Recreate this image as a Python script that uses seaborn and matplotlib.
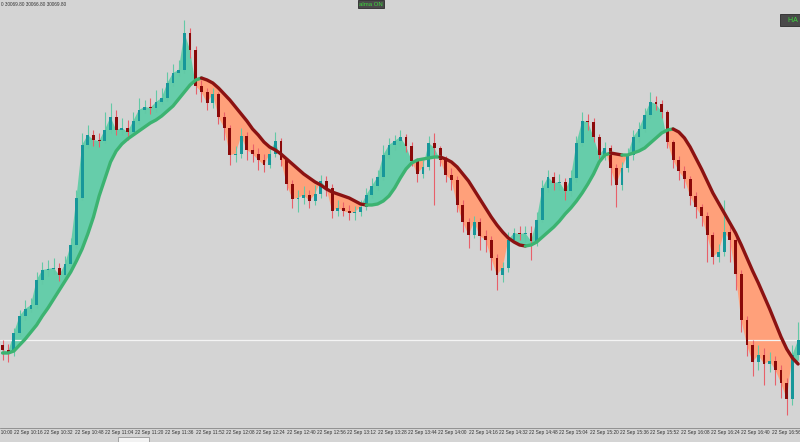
import matplotlib
matplotlib.use("Agg")
import matplotlib.pyplot as plt
import matplotlib.transforms as mtransforms
import numpy as np
import pandas as pd
import seaborn as sns

# one candle every 3 minutes, time in minutes after 10:00
start_min = 11
step_min = 3
first_open = 30065

close = [30060, 30058, 30077, 30094, 30101, 30105, 30130, 30140, 30141, 30142,
         30135, 30146, 30165, 30212, 30265, 30275, 30270, 30269, 30280, 30293,
         30280, 30282, 30278, 30289, 30300, 30303, 30302, 30308, 30312, 30327,
         30337, 30340, 30377, 30360, 30324, 30318, 30307, 30316, 30293, 30282,
         30255, 30256, 30274, 30260, 30256, 30250, 30245, 30256, 30269, 30250,
         30226, 30211, 30212, 30215, 30209, 30216, 30229, 30222, 30199, 30202,
         30199, 30197, 30198, 30203, 30215, 30224, 30233, 30255, 30265, 30269,
         30273, 30264, 30249, 30236, 30243, 30267, 30262, 30250, 30235, 30230,
         30205, 30188, 30175, 30188, 30174, 30170, 30152, 30135, 30142, 30170,
         30177, 30176, 30177, 30169, 30190, 30222, 30233, 30227, 30228, 30219,
         30232, 30267, 30289, 30288, 30273, 30255, 30262, 30242, 30225, 30242,
         30255, 30273, 30281, 30295, 30308, 30306, 30298, 30268, 30250, 30239,
         30231, 30214, 30203, 30194, 30175, 30153, 30158, 30178, 30170, 30136,
         30090, 30065, 30048, 30055, 30046, 30049, 30040, 30027, 30011, 30055,
         30070]

high = [30070, 30066, 30082, 30100, 30110, 30112, 30138, 30148, 30150, 30152,
        30147, 30154, 30172, 30220, 30277, 30285, 30280, 30277, 30298, 30307,
        30300, 30292, 30290, 30298, 30312, 30310, 30312, 30320, 30322, 30338,
        30346, 30350, 30390, 30382, 30364, 30330, 30322, 30322, 30318, 30298,
        30285, 30264, 30282, 30278, 30266, 30262, 30256, 30264, 30278, 30272,
        30252, 30230, 30220, 30224, 30220, 30225, 30235, 30234, 30226, 30210,
        30208, 30205, 30204, 30210, 30222, 30232, 30240, 30265, 30272, 30275,
        30280, 30276, 30268, 30252, 30250, 30274, 30277, 30264, 30254, 30242,
        30234, 30210, 30192, 30194, 30192, 30180, 30174, 30156, 30148, 30178,
        30182, 30184, 30184, 30184, 30198, 30230, 30240, 30238, 30236, 30232,
        30240, 30274, 30298, 30296, 30292, 30276, 30268, 30265, 30246, 30248,
        30262, 30280, 30288, 30302, 30318, 30314, 30310, 30300, 30270, 30254,
        30244, 30234, 30218, 30206, 30198, 30178, 30166, 30210, 30184, 30174,
        30140, 30094, 30070, 30065, 30062, 30058, 30054, 30045, 30032, 30065,
        30088]

low = [30050, 30048, 30054, 30074, 30090, 30098, 30102, 30126, 30134, 30136,
       30129, 30132, 30142, 30162, 30210, 30262, 30264, 30263, 30267, 30277,
       30275, 30275, 30270, 30275, 30286, 30297, 30296, 30298, 30306, 30309,
       30324, 30334, 30337, 30352, 30316, 30308, 30300, 30302, 30286, 30270,
       30245, 30248, 30252, 30250, 30248, 30240, 30238, 30242, 30253, 30244,
       30220, 30202, 30198, 30206, 30202, 30205, 30212, 30214, 30192, 30194,
       30194, 30190, 30190, 30194, 30200, 30212, 30220, 30230, 30252, 30260,
       30264, 30258, 30244, 30228, 30232, 30240, 30205, 30244, 30228, 30220,
       30198, 30178, 30162, 30172, 30160, 30158, 30140, 30120, 30128, 30138,
       30168, 30170, 30168, 30150, 30164, 30188, 30218, 30220, 30220, 30210,
       30214, 30228, 30264, 30280, 30268, 30248, 30250, 30225, 30203, 30220,
       30238, 30250, 30268, 30278, 30292, 30300, 30292, 30262, 30242, 30230,
       30222, 30205, 30192, 30184, 30148, 30146, 30148, 30154, 30148, 30120,
       30078, 30054, 30034, 30040, 30025, 30038, 30025, 30012, 29995, 30005,
       30050]

ma = [30057, 30057, 30059, 30065, 30071, 30078, 30085, 30094, 30102, 30111,
      30120, 30129, 30138, 30149, 30161, 30176, 30193, 30214, 30231, 30248,
      30259, 30266, 30271, 30275, 30279, 30283, 30287, 30290, 30294, 30299,
      30304, 30311, 30318, 30325, 30330, 30332, 30330, 30327, 30322, 30316,
      30310, 30303, 30296, 30289, 30281, 30275, 30268, 30263, 30260, 30256,
      30251, 30246, 30241, 30236, 30232, 30228, 30225, 30221, 30218, 30216,
      30214, 30212, 30209, 30206, 30205, 30205, 30206, 30209, 30214, 30222,
      30232, 30241, 30247, 30250, 30251, 30252, 30253, 30253, 30251, 30248,
      30243, 30236, 30229, 30220, 30211, 30202, 30193, 30185, 30178, 30172,
      30168, 30165, 30164, 30165, 30168, 30173, 30178, 30183, 30189, 30196,
      30202, 30209, 30217, 30226, 30236, 30248, 30255, 30257, 30256, 30255,
      30255, 30257, 30259, 30262, 30267, 30272, 30277, 30280, 30281, 30278,
      30272, 30263, 30252, 30241, 30229, 30217, 30207, 30197, 30187, 30177,
      30165, 30152, 30139, 30127, 30114, 30101, 30087, 30073, 30061, 30052,
      30046]

bid = 30069.8
tick_minutes = [0, 16, 32, 48, 64, 80, 96, 112, 128, 144, 160, 176, 192, 208,
                224, 240, 256, 272, 288, 304, 320, 336, 352, 368, 384, 400, 416]
tick_labels = ['22 Sep 10:00', '22 Sep 10:16', '22 Sep 10:32', '22 Sep 10:48',
               '22 Sep 11:04', '22 Sep 11:20', '22 Sep 11:36', '22 Sep 11:52',
               '22 Sep 12:08', '22 Sep 12:24', '22 Sep 12:40', '22 Sep 12:56',
               '22 Sep 13:12', '22 Sep 13:28', '22 Sep 13:44', '22 Sep 14:00',
               '22 Sep 14:16', '22 Sep 14:32', '22 Sep 14:48', '22 Sep 15:04',
               '22 Sep 15:20', '22 Sep 15:36', '22 Sep 15:52', '22 Sep 16:08',
               '22 Sep 16:24', '22 Sep 16:40', '22 Sep 16:56']

df = pd.DataFrame({'close': close, 'high': high, 'low': low, 'ma': ma})
df['t'] = start_min + step_min * np.arange(len(df))
df['open'] = df['close'].shift(1).fillna(first_open)
df['up'] = df['close'] >= df['open']

bg = '#d4d4d4'
sns.set_theme(style='white', rc={'axes.facecolor': bg, 'figure.facecolor': bg})
small_font = ['Liberation Sans Narrow', 'Liberation Sans', 'DejaVu Sans']

fig = plt.figure(figsize=(8, 4.42), dpi=100)
ax = fig.add_axes([0, 14 / 442, 1, 428 / 442])

t = df['t'].to_numpy()
c = df['close'].to_numpy(dtype=float)
m = df['ma'].to_numpy(dtype=float)

# fill between price and the average
ax.fill_between(t, c, m, where=c >= m, interpolate=True, color='#66cdaa', lw=0, zorder=1)
ax.fill_between(t, c, m, where=c < m, interpolate=True, color='#ffa07a', lw=0, zorder=1)

# bid line
ax.axhline(bid, color='#f4f4f4', lw=0.9, zorder=2)

# candles
wick_col = np.where(df['up'], '#63c9a6', '#e8606a')
body_col = np.where(df['up'], '#17979a', '#8b0a0a')
ax.vlines(t, df['low'], df['high'], colors=wick_col, lw=0.8, zorder=3)
body_h = (df['close'] - df['open']).abs().clip(lower=1.2)
ax.bar(t, body_h, bottom=np.minimum(df['open'], df['close']), width=1.5,
       color=body_col, lw=0, zorder=4)

# average, green while rising, dark red while falling
rising = np.diff(m) >= 0
start = 0
for i in range(1, len(rising) + 1):
    if i == len(rising) or rising[i] != rising[start]:
        seg = df.iloc[start:i + 1]
        sns.lineplot(x=seg['t'], y=seg['ma'], ax=ax, sort=False, estimator=None,
                     color='#3cb371' if rising[start] else '#8b1212', lw=2.4,
                     zorder=5, solid_capstyle='round')
        start = i

ax.set_xlabel('')
ax.set_ylabel('')
ax.set_yticks([])
ax.set_xticks(tick_minutes)
ax.set_xticklabels([])
ax.set_xlim(9.66, 432.0)
ax.set_ylim(29982, 30410)
ax.tick_params(axis='x', direction='out', length=3, width=0.6, color='#555555', pad=0)
for side in ['left', 'right', 'top']:
    ax.spines[side].set_visible(False)
ax.spines['bottom'].set_color('#777777')
ax.spines['bottom'].set_linewidth(0.5)

trans = mtransforms.blended_transform_factory(ax.transData, ax.transAxes)
for tm, lab in zip(tick_minutes, tick_labels):
    ax.text(tm + 1.0, -0.004, lab, transform=trans, ha='left', va='top',
            fontsize=3.4, family=small_font, color='#333333', clip_on=False)

fig.text(1 / 800, 1 - 2 / 442, '0 30069.80 30066.80 30069.80', ha='left', va='top',
         fontsize=3.4, family=small_font, color='#333333')
fig.text(371 / 800, 1 - 4 / 442, 'alma ON', ha='center', va='center', fontsize=4.3,
         family=small_font, color='#3ddc3d',
         bbox=dict(boxstyle='square,pad=0.25', fc='#4a4a4a', ec='#2a2a2a', lw=0.6))
fig.text(782 / 800, 1 - 20 / 442, '   HA', ha='left', va='center', fontsize=5,
         family=small_font, color='#3ddc3d',
         bbox=dict(boxstyle='square,pad=0.3', fc='#4a4a4a', ec='#2a2a2a', lw=0.6))

# tab strip below the time axis
fig.patches.append(plt.Rectangle((118 / 800, 0), 31 / 800, 5 / 442, transform=fig.transFigure,
                                 fc='#f2f2f2', ec='#888888', lw=0.5))

fig.savefig('out.png', dpi=100, facecolor=bg)
